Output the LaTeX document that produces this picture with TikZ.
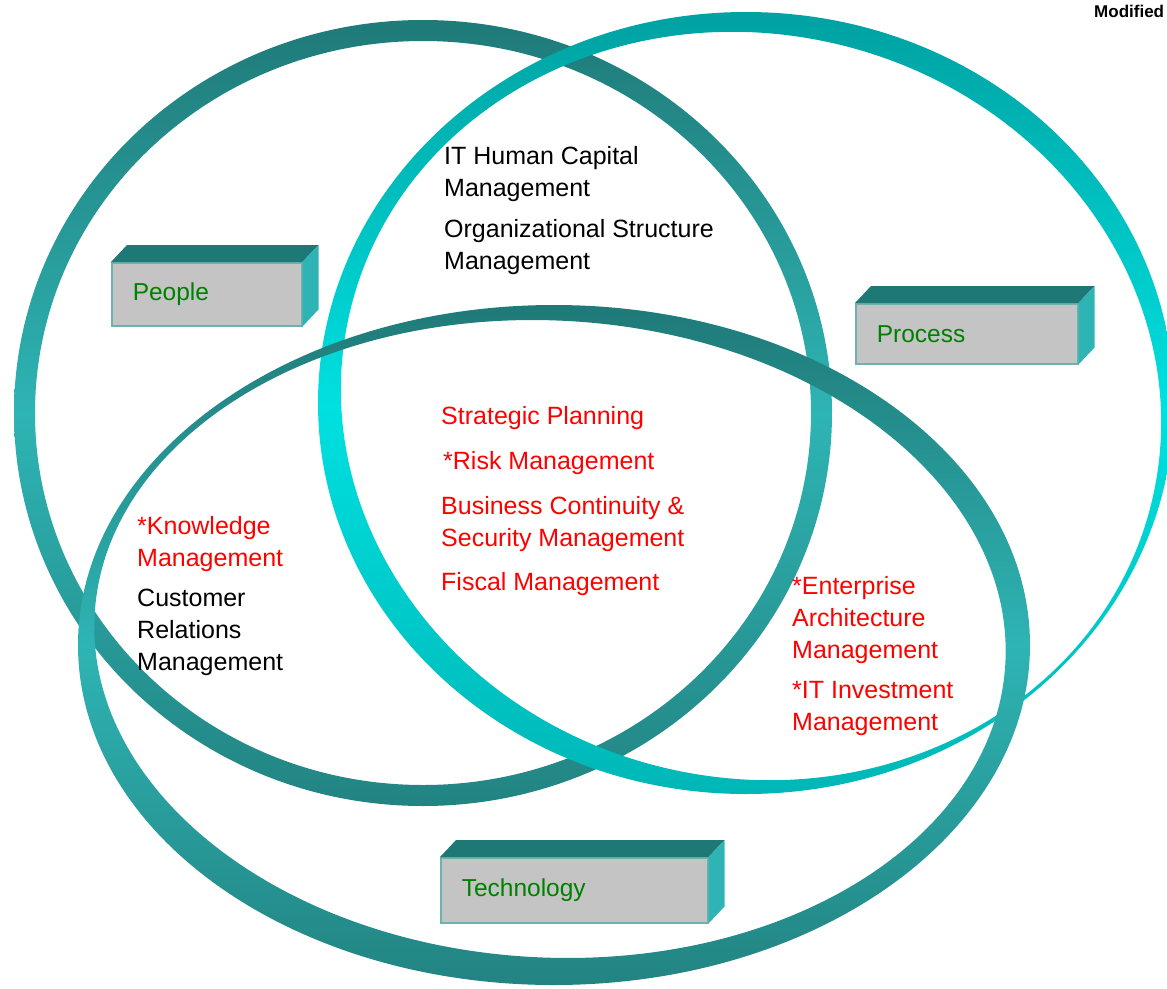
\documentclass[tikz,border=0pt]{standalone}
\usepackage{fontspec}
\setmainfont{Liberation Sans}
\usepackage{tikz}
\usetikzlibrary{positioning}

\definecolor{ringdark}{RGB}{31,122,120}
\definecolor{ringlight}{RGB}{46,180,180}
\definecolor{ringmid}{RGB}{34,132,130}
\definecolor{cyandark}{RGB}{0,158,158}
\definecolor{cyanlight}{RGB}{0,224,224}
\definecolor{cyanmid}{RGB}{0,180,180}
\definecolor{boxtopcol}{RGB}{30,120,118}
\definecolor{boxsidecol}{RGB}{46,180,180}
\definecolor{boxfront}{RGB}{196,196,196}
\definecolor{boxedge}{RGB}{111,176,176}
\definecolor{labelgreen}{RGB}{0,128,0}

\begin{document}
\begin{tikzpicture}[x=1pt,y=-1pt,
	txt/.style={font=\fontsize{25}{32}\selectfont, anchor=north west, inner sep=0pt, align=left},
	redtxt/.style={txt, text=red},
	labelbox/.style={draw=boxedge, line width=1.5pt, fill=boxfront, text=labelgreen, anchor=north west,
		font=\fontsize{24.5}{28}\selectfont, inner xsep=21pt, align=left},
	boxtop/.style={fill=boxtopcol},
	boxside/.style={fill=boxsidecol},
	tealring/.style={even odd rule, top color=ringdark, bottom color=ringmid, middle color=ringlight},
	cyanring/.style={even odd rule, top color=cyandark, bottom color=cyanmid, middle color=cyanlight}]
	\useasboundingbox (0,0) rectangle (1167,988);

	\shade[tealring] (423,413) ellipse [x radius=409, y radius=393]
		(423,413) ellipse [x radius=388, y radius=372];
	\shade[cyanring] (746,403) ellipse [x radius=428, y radius=391]
		(751,406) ellipse [x radius=412, y radius=372, rotate=-13];
	\shade[tealring] (554,645) ellipse [x radius=476, y radius=340]
		(550,639) ellipse [x radius=456, y radius=318.5, rotate=-3];

	\node (people) [labelbox, minimum height=63pt, text width=148pt] at (111,262) {People};
	\node (process) [labelbox, minimum height=60pt, text width=180pt] at (855,303) {Process};
	\node (technology) [labelbox, minimum height=65pt, text width=225pt] at (440,857) {Technology};

	\foreach \b in {people, process, technology} {
		\fill [boxtop] (\b.north west) -- ++(16,-17) -- ([shift={(16,-17)}]\b.north east) -- (\b.north east) -- cycle;
		\fill [boxside] (\b.north east) -- ++(16,-17) -- ([shift={(16,-17)}]\b.south east) -- (\b.south east) -- cycle;
	}

	\node (hcm) [txt] at (444,146) {IT Human Capital\\Management};
	\node (osm) [txt] at (444,219) {Organizational Structure\\Management};
	\node (sp) [redtxt] at (441,406) {Strategic Planning};
	\node (rm) [redtxt] at (443,451) {*Risk Management};
	\node (bcsm) [redtxt] at (441,496) {Business Continuity \&\\Security Management};
	\node (fm) [redtxt] at (441,572) {Fiscal Management};
	\node (km) [redtxt] at (137,516) {*Knowledge\\Management};
	\node (crm) [txt] at (137,589) {Customer\\Relations\\Management};
	\node (eam) [redtxt] at (792,576) {*Enterprise\\Architecture\\Management};
	\node (iim) [redtxt] at (792,681) {*IT Investment\\Management};
	\node (modified) [txt, font=\bfseries\fontsize{17}{20}\selectfont] at (1094,5) {Modified};
\end{tikzpicture}
\end{document}
